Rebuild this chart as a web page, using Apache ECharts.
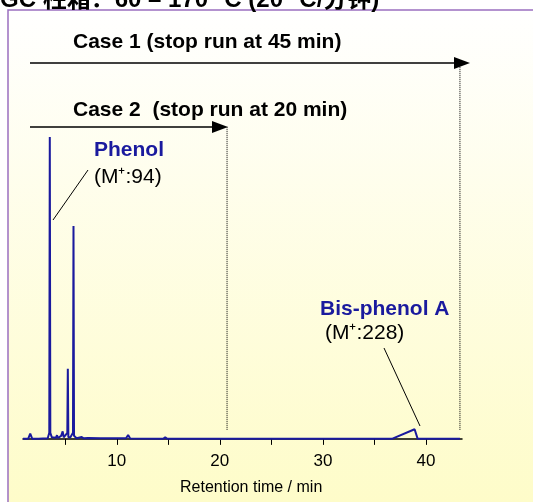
<!DOCTYPE html>
<html>
<head>
<meta charset="utf-8">
<script src="https://cdn.jsdelivr.net/npm/echarts@6/dist/echarts.min.js"></script>
<style>html,body{margin:0;padding:0;background:#fff}#chart{width:533px;height:502px}</style>
</head>
<body>
<div id="chart"></div>
<script>
// retention time (min) and relative intensity
var rt = [0.9, 1.4, 1.6, 1.8, 2.4, 3.3, 3.45, 3.5, 3.55, 3.7, 4.1, 4.2, 4.3, 4.6, 4.75, 4.85, 5.0, 5.2, 5.25, 5.3,
          5.5, 5.75, 5.8, 5.85, 6.1, 6.6, 6.8, 7.2, 8.4, 9.5, 10.9, 11.1, 11.3, 14.5, 14.7, 14.9, 36.7, 38.9, 39.0, 39.2, 43.3];
var intensity = [0, 0, 1.7, 0, 0, 0.2, 2, 100, 2, 0.5, 0.4, 1.2, 0.3, 1, 2.5, 0.5, 0.6, 2, 23.2, 0.5,
                 0.5, 2, 70.5, 1, 0.2, 0.6, 0.2, 0.3, 0.2, 0.2, 0.2, 1.3, 0.1, 0, 0.5, 0, 0, 3.2, 3.2, 0, 0];
var tickValues = [5, 10, 15, 20, 25, 30, 35, 40];
var labelValues = [10, 20, 30, 40];
var stopTimes = [20.7, 43.3];
var stopTops = [103.5, 124.5];

var traceData = [];
for (var i = 0; i < rt.length; i++) {
    traceData.push([rt[i], intensity[i]]);
}

var myChart = echarts.init(document.getElementById('chart'));
var blue = '#1a1a9e';
var font = 'Arial, Liberation Sans';

var series = [{
    type: 'line',
    data: traceData,
    clip: false,
    showSymbol: false,
    lineStyle: { color: blue, width: 2 }
}];
for (var k = 0; k < stopTimes.length; k++) {
    series.push({
        type: 'line',
        clip: false,
        silent: true,
        showSymbol: false,
        data: [[stopTimes[k], 3], [stopTimes[k], stopTops[k]]],
        lineStyle: { color: '#000', type: 'dotted', width: 1 }
    });
}

var option = {
    animation: false,
    grid: { left: 23, right: 71, top: 137, bottom: 58 },
    xAxis: {
        type: 'value',
        min: 0.9,
        max: 43.5,
        axisLine: { lineStyle: { color: '#000', width: 1.5 } },
        axisTick: { customValues: tickValues, length: 6, lineStyle: { color: '#000' } },
        axisLabel: { customValues: labelValues, color: '#000', fontSize: 17, fontFamily: font, margin: 9 },
        splitLine: { show: false }
    },
    yAxis: {
        type: 'value',
        min: -1.7,
        max: 100,
        show: false
    },
    series: series,
    graphic: [
        {
            type: 'rect', z: -10, silent: true,
            shape: { x: 8, y: 10, width: 540, height: 500 },
            style: {
                fill: new echarts.graphic.LinearGradient(0, 0, 0, 1, [
                    { offset: 0, color: '#ffffff' }, { offset: 1, color: '#fefcc8' }
                ]),
                stroke: '#9a6fc0', lineWidth: 1.5
            }
        },
        {
            type: 'text', left: 0, top: -12,
            style: { text: 'GC 柱箱：60 – 170 °C (20 °C/分钟)', font: 'bold 24px Arial, "Noto Sans CJK SC"', fill: '#000' }
        },
        { type: 'text', left: 73, top: 32, style: { text: 'Case 1 (stop run at 45 min)', font: 'bold 21px ' + font, fill: '#000' } },
        { type: 'line', shape: { x1: 30, y1: 63, x2: 456, y2: 63 }, style: { stroke: '#000', lineWidth: 1.5 } },
        { type: 'polygon', shape: { points: [[454, 57], [470, 63], [454, 69]] }, style: { fill: '#000' } },
        { type: 'text', left: 73, top: 100, style: { text: 'Case 2  (stop run at 20 min)', font: 'bold 21px ' + font, fill: '#000' } },
        { type: 'line', shape: { x1: 30, y1: 127, x2: 215, y2: 127 }, style: { stroke: '#000', lineWidth: 1.5 } },
        { type: 'polygon', shape: { points: [[212, 121], [228, 127], [212, 133]] }, style: { fill: '#000' } },
        { type: 'text', left: 94, top: 140, style: { text: 'Phenol', font: 'bold 21px ' + font, fill: blue } },
        { type: 'text', left: 94, top: 167, style: { text: '(M⁺:94)', font: '21px ' + font, fill: '#000' } },
        { type: 'line', shape: { x1: 88, y1: 170, x2: 53, y2: 220 }, style: { stroke: '#000', lineWidth: 1 } },
        { type: 'text', left: 320, top: 299, style: { text: 'Bis-phenol A', font: 'bold 21px ' + font, fill: blue } },
        { type: 'text', left: 325, top: 323, style: { text: '(M⁺:228)', font: '21px ' + font, fill: '#000' } },
        { type: 'line', shape: { x1: 384, y1: 348, x2: 420, y2: 426 }, style: { stroke: '#000', lineWidth: 1 } },
        { type: 'text', left: 180, top: 480, style: { text: 'Retention time / min', font: '16px ' + font, fill: '#000' } }
    ]
};

myChart.setOption(option);
window.onresize = function() { myChart.resize(); };
</script>
</body>
</html>
